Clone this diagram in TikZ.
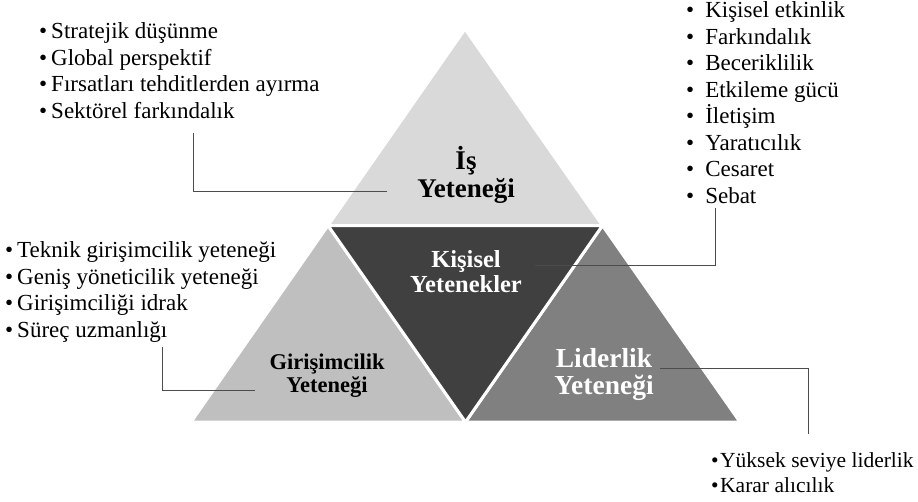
\documentclass[tikz,border=0pt]{standalone}
\usepackage{fontspec}
\setmainfont{Liberation Serif}
\usetikzlibrary{calc}
\definecolor{ustgri}{HTML}{D9D9D9}
\definecolor{solgri}{HTML}{BFBFBF}
\definecolor{ortagri}{HTML}{404040}
\definecolor{saggri}{HTML}{808080}
\newcommand\mdd[1][4pt]{\textbullet\hspace{#1}}

\begin{document}
\begin{tikzpicture}[x=1pt, y=-1pt,
  ucgen/.style={draw=white, line width=3pt},
  liste/.style={anchor=base west, align=left, inner sep=0pt, font=\fontsize{23}{26.5}\selectfont},
  baslik/.style={anchor=base, align=center, inner sep=0pt},
  bag/.style={draw=black!70, line width=0.9pt}]
\useasboundingbox (0,0) rectangle (918,501);
% corners of the big triangle
\coordinate (A) at (465,29);
\coordinate (B) at (191,422);
\coordinate (C) at (740,422);
\coordinate (ab) at ($(A)!0.5!(B)$);
\coordinate (ac) at ($(A)!0.5!(C)$);
\coordinate (bc) at ($(B)!0.5!(C)$);
\draw [ucgen, fill=ustgri] (A) -- (ab) -- (ac) -- cycle;
\draw [ucgen, fill=solgri] (ab) -- (B) -- (bc) -- cycle;
\draw [ucgen, fill=saggri] (ac) -- (bc) -- (C) -- cycle;
\draw [ucgen, fill=ortagri] (ab) -- (ac) -- (bc) -- cycle;
% titles (anchored at the last line)
\node [baslik, font=\bfseries\fontsize{27}{28}\selectfont] (is) at (466,197) {İş\\Yeteneği};
\node [baslik, text=white, font=\bfseries\fontsize{24.5}{25}\selectfont] (kis) at (466,292) {Kişisel\\Yetenekler};
\node [baslik, font=\bfseries\fontsize{22.5}{23}\selectfont] (gir) at (327,392) {Girişimcilik\\Yeteneği};
\node [baslik, text=white, font=\bfseries\fontsize{27.5}{27}\selectfont] (lid) at (604,394) {Liderlik\\Yeteneği};
% lists
\node [liste] (isl) at (39,118) {\mdd Stratejik düşünme\\\mdd Global perspektif\\\mdd Fırsatları tehditlerden ayırma\\\mdd Sektörel farkındalık};
\node [liste] (kisl) at (686,203) {\mdd[11pt]Kişisel etkinlik\\\mdd[11pt]Farkındalık\\\mdd[11pt]Beceriklilik\\\mdd[11pt]Etkileme gücü\\\mdd[11pt]İletişim\\\mdd[11pt]Yaratıcılık\\\mdd[11pt]Cesaret\\\mdd[11pt]Sebat};
\node [liste] (girl) at (5,337) {\mdd Teknik girişimcilik yeteneği\\\mdd Geniş yöneticilik yeteneği\\\mdd Girişimciliği idrak\\\mdd Süreç uzmanlığı};
\node [liste, font=\fontsize{21.5}{24.5}\selectfont] (lidl) at (711,492) {\mdd[1.5pt]Yüksek seviye liderlik\\\mdd[1.5pt]Karar alıcılık};
% connectors
\coordinate (is-c) at (387,191);
\coordinate (isl-c) at (193,133);
\draw [bag] (is-c) -| (isl-c);
\coordinate (kis-c) at (535,265);
\coordinate (kisl-c) at (715,208);
\draw [bag] (kis-c) -| (kisl-c);
\coordinate (gir-c) at (255,390);
\coordinate (girl-c) at (162,347);
\draw [bag] (gir-c) -| (girl-c);
\coordinate (lid-c) at (660,368);
\coordinate (lidl-c) at (808,434);
\draw [bag] (lid-c) -| (lidl-c);
\end{tikzpicture}
\end{document}
